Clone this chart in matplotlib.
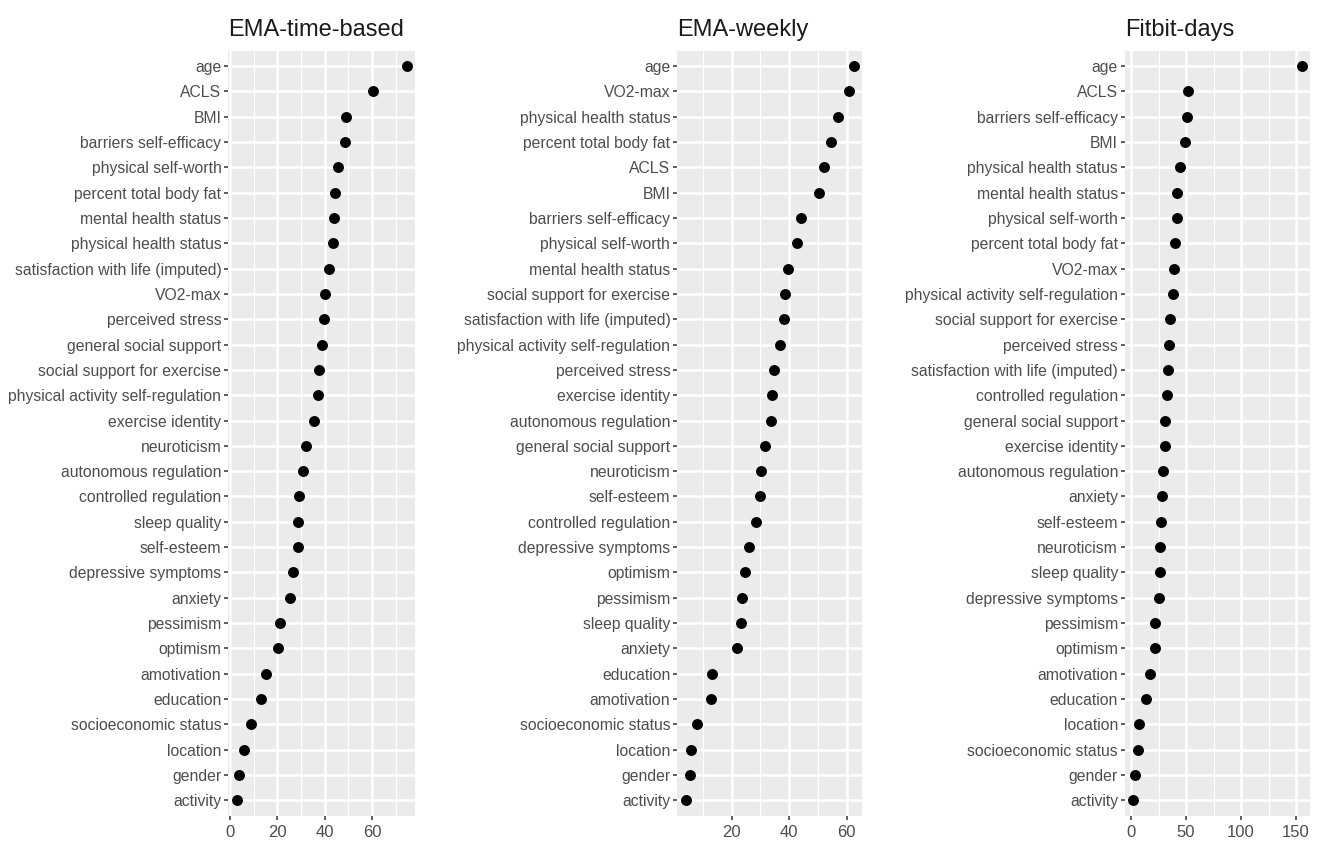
"""Variable importance dot plots for three data sources (ggplot-like style)."""

import matplotlib
matplotlib.use("Agg")
import matplotlib.pyplot as plt
from matplotlib.ticker import MultipleLocator

plt.rcParams["font.family"] = ["Liberation Sans", "DejaVu Sans"]

# ---- data (top to bottom as shown) ----
ema_time_labels = [
    "age", "ACLS", "BMI", "barriers self-efficacy", "physical self-worth",
    "percent total body fat", "mental health status", "physical health status",
    "satisfaction with life (imputed)", "VO2-max", "perceived stress",
    "general social support", "social support for exercise",
    "physical activity self-regulation", "exercise identity", "neuroticism",
    "autonomous regulation", "controlled regulation", "sleep quality",
    "self-esteem", "depressive symptoms", "anxiety", "pessimism", "optimism",
    "amotivation", "education", "socioeconomic status", "location", "gender",
    "activity",
]
ema_time_values = [
    74.6, 60.4, 48.9, 48.8, 45.8, 44.3, 43.9, 43.6, 41.8, 40.2, 39.8, 38.8,
    37.7, 37.0, 35.5, 32.0, 31.0, 29.1, 28.9, 28.7, 26.7, 25.4, 21.2, 20.2,
    15.4, 13.2, 8.8, 6.0, 3.8, 2.9,
]

ema_weekly_labels = [
    "age", "VO2-max", "physical health status", "percent total body fat",
    "ACLS", "BMI", "barriers self-efficacy", "physical self-worth",
    "mental health status", "social support for exercise",
    "satisfaction with life (imputed)", "physical activity self-regulation",
    "perceived stress", "exercise identity", "autonomous regulation",
    "general social support", "neuroticism", "self-esteem",
    "controlled regulation", "depressive symptoms", "optimism", "pessimism",
    "sleep quality", "anxiety", "education", "amotivation",
    "socioeconomic status", "location", "gender", "activity",
]
ema_weekly_values = [
    62.4, 60.9, 57.1, 54.4, 52.1, 50.5, 44.1, 42.8, 39.5, 38.4, 38.1, 36.8,
    34.7, 34.1, 33.6, 31.6, 30.2, 29.9, 28.3, 26.1, 24.6, 23.5, 23.1, 21.7,
    13.1, 12.7, 7.9, 5.7, 5.5, 4.0,
]

fitbit_labels = [
    "age", "ACLS", "barriers self-efficacy", "BMI", "physical health status",
    "mental health status", "physical self-worth", "percent total body fat",
    "VO2-max", "physical activity self-regulation",
    "social support for exercise", "perceived stress",
    "satisfaction with life (imputed)", "controlled regulation",
    "general social support", "exercise identity", "autonomous regulation",
    "anxiety", "self-esteem", "neuroticism", "sleep quality",
    "depressive symptoms", "pessimism", "optimism", "amotivation",
    "education", "location", "socioeconomic status", "gender", "activity",
]
fitbit_values = [
    155.1, 51.3, 50.7, 49.2, 44.3, 41.6, 41.3, 39.8, 39.2, 38.0, 34.9, 34.6,
    33.1, 32.2, 31.2, 31.2, 29.4, 28.0, 27.6, 26.4, 26.1, 24.9, 21.9, 21.6,
    16.7, 13.7, 7.3, 6.6, 3.6, 2.1,
]

titles = ["EMA-time-based", "EMA-weekly", "Fitbit-days"]
x_ticks = [[0, 20, 40, 60], [20, 40, 60], [0, 50, 100, 150]]
x_minor = [10, 10, 25]

panels = [
    (ema_time_labels, ema_time_values),
    (ema_weekly_labels, ema_weekly_values),
    (fitbit_labels, fitbit_values),
]

# axes rectangles in figure fractions
rects = [
    (0.1730, 0.0326, 0.1414, 0.9071),
    (0.5131, 0.0326, 0.1399, 0.9071),
    (0.8523, 0.0326, 0.1402, 0.9071),
]

fig = plt.figure(figsize=(13.2, 8.43), dpi=100)

for (labels, values), title, ticks, minor, rect in zip(panels, titles, x_ticks, x_minor, rects):
    ax = fig.add_axes(rect)
    ax.set_facecolor("#EBEBEB")
    n = len(labels)
    ypos = list(range(n - 1, -1, -1))
    ax.scatter(values, ypos, s=62, color="black", zorder=3, linewidths=0)

    ax.margins(x=0.05)
    ax.set_ylim(-0.6, n - 0.4)
    ax.set_yticks(ypos)
    ax.set_yticklabels(labels)
    ax.set_xticks(ticks)
    ax.xaxis.set_minor_locator(MultipleLocator(minor))

    ax.grid(which="major", color="white", linewidth=1.8, zorder=1)
    ax.grid(which="minor", axis="x", color="white", linewidth=0.9, zorder=1)
    ax.set_axisbelow(True)
    for s in ax.spines.values():
        s.set_visible(False)

    ax.tick_params(axis="both", which="major", length=3, width=1.1,
                   color="#333333", labelcolor="#4D4D4D", labelsize=11.3, pad=2)
    ax.tick_params(axis="x", which="major", labelsize=12, pad=4)
    ax.tick_params(axis="x", which="minor", length=0)
    ax.set_title(title, loc="left", fontsize=17, color="#1A1A1A", pad=11)

fig.savefig("out.png", dpi=100)
